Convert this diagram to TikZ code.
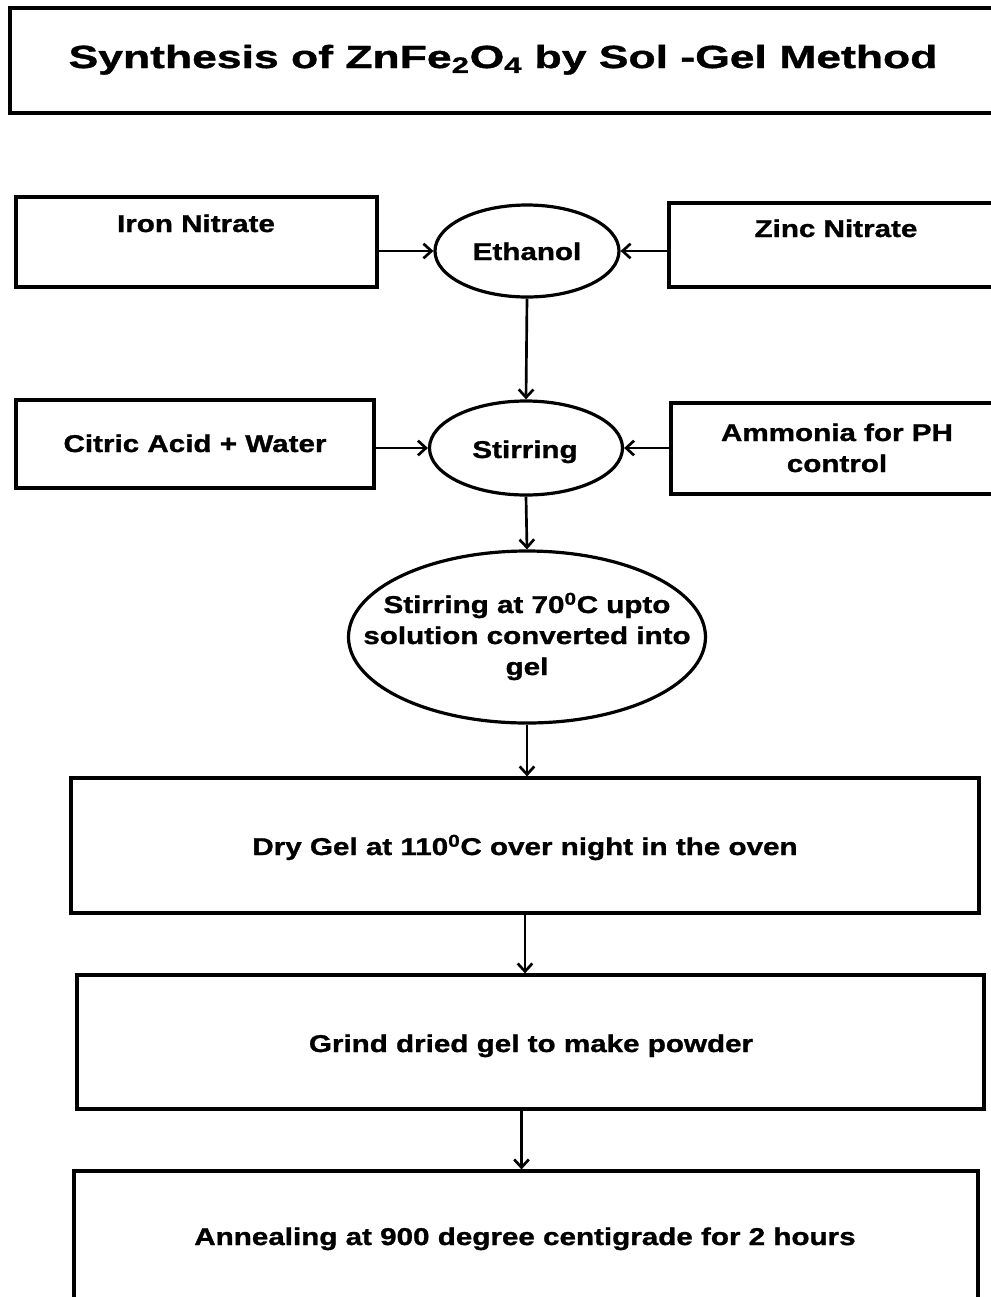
\documentclass[tikz,border=0pt]{standalone}
\usepackage{fontspec}
\usetikzlibrary{shapes.geometric,arrows.meta,fit}
\newfontfamily\bodyf{Liberation Sans}[FakeStretch=1.22,BoldFeatures={FakeBold=1.2}]
\newfontfamily\titlef{Liberation Sans}[FakeStretch=1.39,BoldFeatures={FakeBold=1.2}]
\begin{document}
\begin{tikzpicture}[x=0.75pt,y=-0.75pt,
  box/.style={draw,line width=2.4pt,inner sep=0pt},
  oval/.style={draw,ellipse,line width=2.4pt,inner sep=0pt},
  txt/.style={anchor=base,inner sep=0pt,align=center,font=\bodyf\bfseries\fontsize{18.2}{23.25}\selectfont},
  ttl/.style={anchor=base,inner sep=0pt,font=\titlef\bfseries\fontsize{24}{28}\selectfont},
  arr/.style={line width=2pt,-{Straight Barb[length=6pt,width=11pt]}}]
\useasboundingbox (0,0) rectangle (990,1297);
% title
\node[box,fit={(10,8) (1010,113)}] (tbox) {};
\node[ttl] (title) at (503,68) {Synthesis of ZnFe\textsubscript{2}O\textsubscript{4} by Sol -Gel Method};
% row 1
\node[box,fit={(16,197) (377,287)}] (iron) {};
\node[txt] (irontxt) at (196,232) {Iron Nitrate};
\node[box,fit={(669,203) (1010,287)}] (zinc) {};
\node[txt] (zinctxt) at (836,237) {Zinc Nitrate};
\node[oval,minimum width=138pt,minimum height=69pt] (eth) at (527,251) {};
\node[txt] (ethtxt) at (527,260) {Ethanol};
% row 2
\node[box,fit={(16,400) (374,488)}] (cit) {};
\node[txt] (cittxt) at (195,452) {Citric Acid + Water};
\node[box,fit={(671,403) (1010,494)}] (amm) {};
\node[txt] (ammtxt) at (837,472) {Ammonia for PH\\control};
\node[oval,minimum width=144.75pt,minimum height=70.5pt] (stir) at (526,448) {};
\node[txt] (stirtxt) at (525,458) {Stirring};
% ellipse 3
\node[oval,minimum width=267.75pt,minimum height=129pt] (st70) at (527,637) {};
\node[txt] (st70txt) at (527,675) {Stirring at 70\textsuperscript{0}C upto\\solution converted into\\gel};
% boxes
\node[box,fit={(71,778) (979,913)}] (dry) {};
\node[txt] (drytxt) at (525,855) {Dry Gel at 110\textsuperscript{0}C over night in the oven};
\node[box,fit={(77,975) (984,1109)}] (grind) {};
\node[txt] (grindtxt) at (531,1052) {Grind dried gel to make powder};
\node[box,fit={(74,1171) (978,1320)}] (ann) {};
\node[txt] (anntxt) at (525,1245) {Annealing at 900 degree centigrade for 2 hours};
% connectors
\draw[arr] (eth.west -| iron.east) -- (eth.west);
\draw[arr] (eth.east -| zinc.west) -- (eth.east);
\draw[arr] (eth.south) -- (stir.north);
\draw[arr] (stir.west -| cit.east) -- (stir.west);
\draw[arr] (stir.east -| amm.west) -- (stir.east);
\draw[arr] (stir.south) -- (st70.north);
\draw[arr] (st70.south) -- (st70.south |- dry.north);
\draw[arr] (dry.south) -- (dry.south |- grind.north);
\draw[arr] ([xshift=-6.75pt]grind.south) -- ([xshift=-6.75pt]grind.south |- ann.north);
\end{tikzpicture}
\end{document}
